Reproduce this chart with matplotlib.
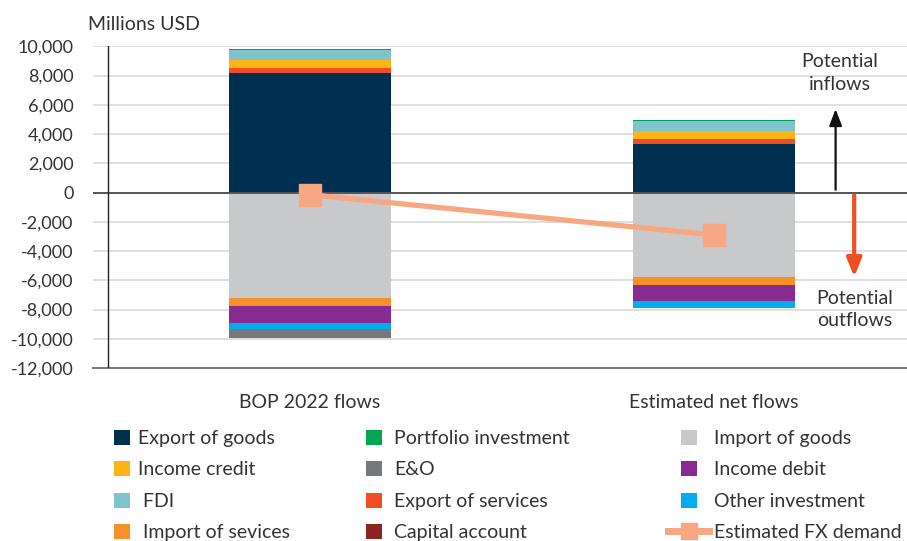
import matplotlib
matplotlib.use("Agg")
import matplotlib.pyplot as plt
import numpy as np
from matplotlib.patches import Rectangle
from matplotlib.lines import Line2D
from matplotlib.legend_handler import HandlerPatch

plt.rcParams['font.family'] = ['Lato', 'DejaVu Sans']

# ---------------- data ----------------
categories = ["BOP 2022 flows", "Estimated net flows"]
export_goods = [8180, 3340]
export_services = [341, 341]
income_credit = [545, 545]
fdi = [661, 682]
portfolio = [68, 68]
capital_account = [0, 0]
import_goods = [-7245, -5770]
import_services = [-523, -523]
income_debit = [-1159, -1159]
other_investment = [-386, -432]
e_and_o = [-636, 0]
fx_demand = [-150, -2900]
yticks = list(range(-12000, 10001, 2000))

pos_series = [
    ("Export of goods", export_goods, "#00304f"),
    ("Export of services", export_services, "#f04e23"),
    ("Income credit", income_credit, "#fdb515"),
    ("FDI", fdi, "#7fc4cc"),
    ("Portfolio investment", portfolio, "#00a650"),
    ("Capital account", capital_account, "#8e2421"),
]
neg_series = [
    ("Import of goods", import_goods, "#c8c9cb"),
    ("Import of sevices", import_services, "#f7902b"),
    ("Income debit", income_debit, "#872b90"),
    ("Other investment", other_investment, "#00aeef"),
    ("E&O", e_and_o, "#77787b"),
]

TXT = "#333333"
FS = 14
FS_TICK = 13

fig = plt.figure(figsize=(9.07, 5.41), dpi=100)
W, H = 907, 541
ax = fig.add_axes([93 / W, 1 - 368 / H, (W - 93) / W, (368 - 46.3) / H])

x = np.arange(len(categories))
handles = {}
bottom = np.zeros(len(categories))
for name, vals, col in pos_series:
    v = np.array(vals, dtype=float)
    b = ax.bar(x, v, 0.4, bottom=bottom, color=col, label=name, zorder=3, linewidth=0)
    handles[name] = b
    bottom += v
bottom = np.zeros(len(categories))
for name, vals, col in neg_series:
    v = np.array(vals, dtype=float)
    b = ax.bar(x, v, 0.4, bottom=bottom, color=col, label=name, zorder=3, linewidth=0)
    handles[name] = b
    bottom += v

ln, = ax.plot(x, fx_demand, color="#f7a782", lw=3.8, marker="s", markersize=16.5,
              zorder=5, label="Estimated FX demand")
handles["Estimated FX demand"] = ln

ax.set_xlim(-0.5 - 15 / 404, 1.5 - 9 / 404)
ax.set_ylim(-12000, 10000)
ax.set_yticks(yticks)
ax.set_yticklabels([f"{t:,}" for t in yticks], fontsize=FS_TICK, color=TXT)
ax.set_xticks(x)
ax.set_xticklabels(categories, fontsize=FS, color=TXT)
ax.tick_params(axis='y', length=0, pad=14)
ax.tick_params(axis='x', length=0, pad=18.5)
ax.grid(axis='y', color="#d9d9d9", lw=1.2, zorder=0)
ax.set_axisbelow(True)
for s in ["top", "right", "left"]:
    ax.spines[s].set_visible(False)
ax.spines["bottom"].set_color("#7a7a7a")
ax.spines["bottom"].set_linewidth(1.4)
ax.axhline(0, color="#555555", lw=1.4, zorder=4)
ax.axvline(-0.5, color="#222222", lw=1.0, zorder=4)

# arrows and annotations
ax.annotate("", xy=(1.301, 5900), xytext=(1.301, 0),
            arrowprops=dict(arrowstyle="-|>,head_width=0.38,head_length=1.0",
                            color="#111111", lw=1.6), zorder=6)
ax.annotate("", xy=(1.347, -5950), xytext=(1.347, 0),
            arrowprops=dict(arrowstyle="-|>,head_width=0.45,head_length=1.1",
                            color="#f04e23", lw=3.0), zorder=6)
ax.text(1.312, 8150, "Potential\ninflows", ha="center", va="center",
        fontsize=FS, color=TXT, linespacing=1.42)
ax.text(1.349, -8000, "Potential\noutflows", ha="center", va="center",
        fontsize=FS, color=TXT, linespacing=1.42)

fig.text(88 / W, 1 - 25 / H, "Millions USD", ha="left", va="center",
         fontsize=FS, color=TXT)


# legend with fixed-size rectangular swatches
def make_patch(width_px, height_px):
    def f(legend, orig_handle, xdescent, ydescent, width, height, fontsize):
        wpt = width_px * 72 / 100
        hpt = height_px * 72 / 100
        return Rectangle((width / 2 - wpt / 2 - xdescent, height / 2 - hpt / 2 - ydescent),
                         wpt, hpt)
    return f


cols = [
    ["Export of goods", "Income credit", "FDI", "Import of sevices"],
    ["Portfolio investment", "E&O", "Export of services", "Capital account"],
    ["Import of goods", "Income debit", "Other investment", "Estimated FX demand"],
]
shown = {"FDI": " FDI", "Import of sevices": " Import of sevices"}
col_x = [114, 366, 668]
col_hlen = [16, 16, 41]
col_pad = [8, 12, 5]
fpx = FS * 100 / 72
for names, cx, hl, pad in zip(cols, col_x, col_hlen, col_pad):
    hs = []
    for n in names:
        h = handles[n]
        hs.append(h.patches[0] if hasattr(h, "patches") else h)
    hm = {p: HandlerPatch(patch_func=make_patch(16, 15)) for p in hs if isinstance(p, Rectangle)}
    leg = fig.legend(hs, [shown.get(n, n) for n in names], loc="upper left",
                     bbox_to_anchor=(cx / W, 1 - 430 / H),
                     frameon=False, fontsize=FS, labelcolor=TXT,
                     handlelength=hl / fpx,
                     handleheight=15 / fpx,
                     handletextpad=pad / fpx,
                     labelspacing=0.74, borderpad=0, borderaxespad=0,
                     handler_map=hm)
    for lh in leg.legend_handles:
        if isinstance(lh, Line2D):
            lh.set_markersize(11)
            lh.set_linewidth(5)

fig.savefig("out.png", dpi=100)
